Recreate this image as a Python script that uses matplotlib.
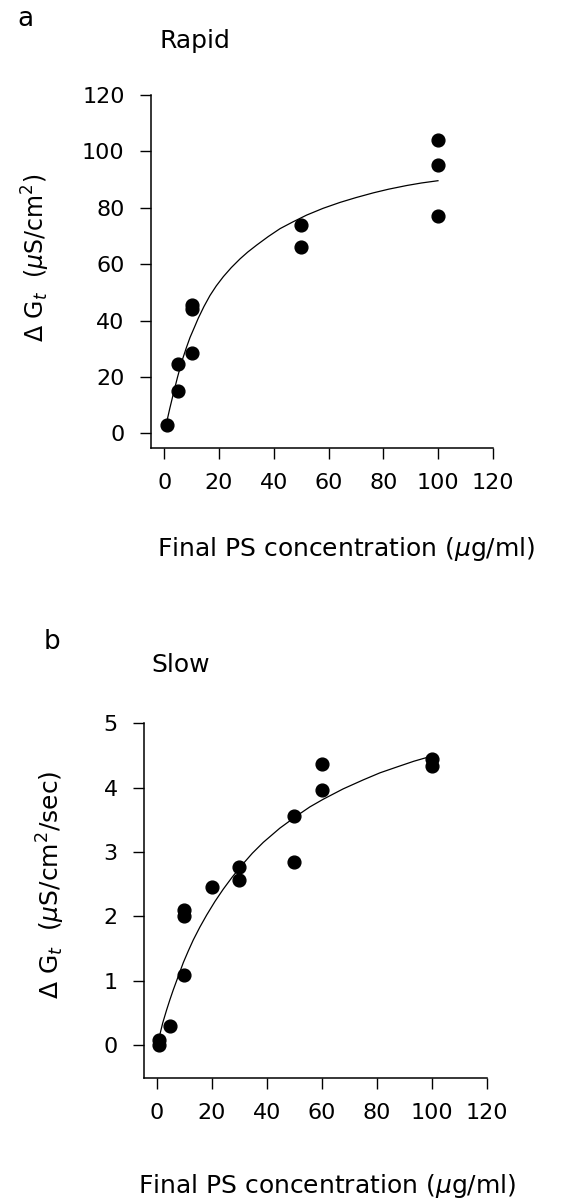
import matplotlib
matplotlib.use("Agg")
import matplotlib.pyplot as plt

plt.rcParams['font.family'] = ['DejaVu Sans']
plt.rcParams['mathtext.fontset'] = 'dejavusans'

# ---- Panel a: Rapid ----
rapid_x = [1, 5, 5, 10, 10, 10, 50, 50, 100, 100, 100]
rapid_y = [3, 15, 24.5, 28.5, 44, 45.5, 74, 66, 104, 95, 77]
rapid_fit_x = [1, 2, 3.3, 4.8, 6.4, 8, 9.4, 11, 12.4, 14.5, 16.7, 19, 21.6, 24.5, 27.7,
               30.5, 33.8, 38, 42.3, 47, 52, 58, 64.2, 70, 76.4, 82, 88.6, 94, 100]
rapid_fit_y = [4.5, 8.8, 14.0, 19.8, 25.5, 30.2, 34.0, 37.6, 40.8, 45.0, 48.9, 52.3, 55.6,
               58.8, 61.9, 64.3, 66.8, 69.8, 72.6, 75.0, 77.4, 79.8, 81.9, 83.6, 85.3,
               86.6, 87.9, 88.8, 89.6]

# ---- Panel b: Slow ----
slow_x = [1, 1, 5, 10, 10, 10, 20, 30, 30, 50, 50, 60, 60, 100, 100]
slow_y = [0.07, 0.0, 0.3, 1.08, 2.0, 2.1, 2.46, 2.77, 2.57, 3.56, 2.85, 3.96, 4.36, 4.45, 4.34]
slow_fit_x = [1, 2.2, 3.6, 4.8, 6.0, 7.8, 9.7, 11.5, 13.3, 15.7, 18.2, 21.2, 24.2, 27.5,
              30.9, 34.8, 38.8, 44.8, 50.9, 55.7, 60.6, 67.8, 75.1, 81.2, 87.3, 93.5, 100]
slow_fit_y = [0.13, 0.34, 0.54, 0.70, 0.85, 1.06, 1.28, 1.46, 1.63, 1.83, 2.02, 2.23, 2.42,
              2.61, 2.79, 2.98, 3.15, 3.37, 3.56, 3.70, 3.82, 3.98, 4.12, 4.23, 4.32, 4.41, 4.49]

x_ticks = [0, 20, 40, 60, 80, 100, 120]
rapid_yticks = [0, 20, 40, 60, 80, 100, 120]
slow_yticks = [0, 1, 2, 3, 4, 5]

W, H = 561, 1204
fig = plt.figure(figsize=(W / 100, H / 100), dpi=100)

def px_axes(x0, x1, y_top, y_bot):
    return fig.add_axes([x0 / W, 1 - y_bot / H, (x1 - x0) / W, (y_bot - y_top) / H])

def style(ax, xlim, ylim, yticks):
    ax.set_xlim(*xlim)
    ax.set_ylim(*ylim)
    ax.set_xticks(x_ticks)
    ax.set_yticks(yticks)
    for s in ['top', 'right']:
        ax.spines[s].set_visible(False)
    for s in ['left', 'bottom']:
        ax.spines[s].set_linewidth(1.1)
    ax.tick_params(axis='both', direction='out', length=8, width=1.0,
                   labelsize=16, colors='black')
    ax.tick_params(axis='y', pad=11)
    ax.tick_params(axis='x', pad=10)

ax1 = px_axes(151, 492.7, 95, 447.7)
style(ax1, (-4.86, 120), (-5.1, 120), rapid_yticks)
ax1.plot(rapid_fit_x, rapid_fit_y, color='black', lw=0.9)
ax1.plot(rapid_x, rapid_y, 'o', color='black', ms=9.2, mec='black')

ax2 = px_axes(144, 486.7, 723.3, 1078.3)
style(ax2, (-4.6, 120), (-0.52, 5), slow_yticks)
ax2.plot(slow_fit_x, slow_fit_y, color='black', lw=0.9)
ax2.plot(slow_x, slow_y, 'o', color='black', ms=9.2, mec='black')

def ftext(x, y, s, **kw):
    fig.text(x / W, 1 - y / H, s, **kw)

ftext(25, 19, 'a', fontsize=19, ha='center', va='center')
ftext(195, 41, 'Rapid', fontsize=18, ha='center', va='center')
ftext(52, 642, 'b', fontsize=19, ha='center', va='center')
ftext(181, 665, 'Slow', fontsize=18, ha='center', va='center')

xl = r'Final PS concentration ($\mu$g/ml)'
ftext(346, 549, xl, fontsize=18, ha='center', va='center')
ftext(327, 1186, xl, fontsize=18, ha='center', va='center')

ftext(36, 258, r'$\Delta$ G$_t$  ($\mu$S/cm$^2$)', fontsize=17,
      ha='center', va='center', rotation=90)
ftext(51, 885, r'$\Delta$ G$_t$  ($\mu$S/cm$^2$/sec)', fontsize=18,
      ha='center', va='center', rotation=90)

fig.savefig('out.png', dpi=100)
